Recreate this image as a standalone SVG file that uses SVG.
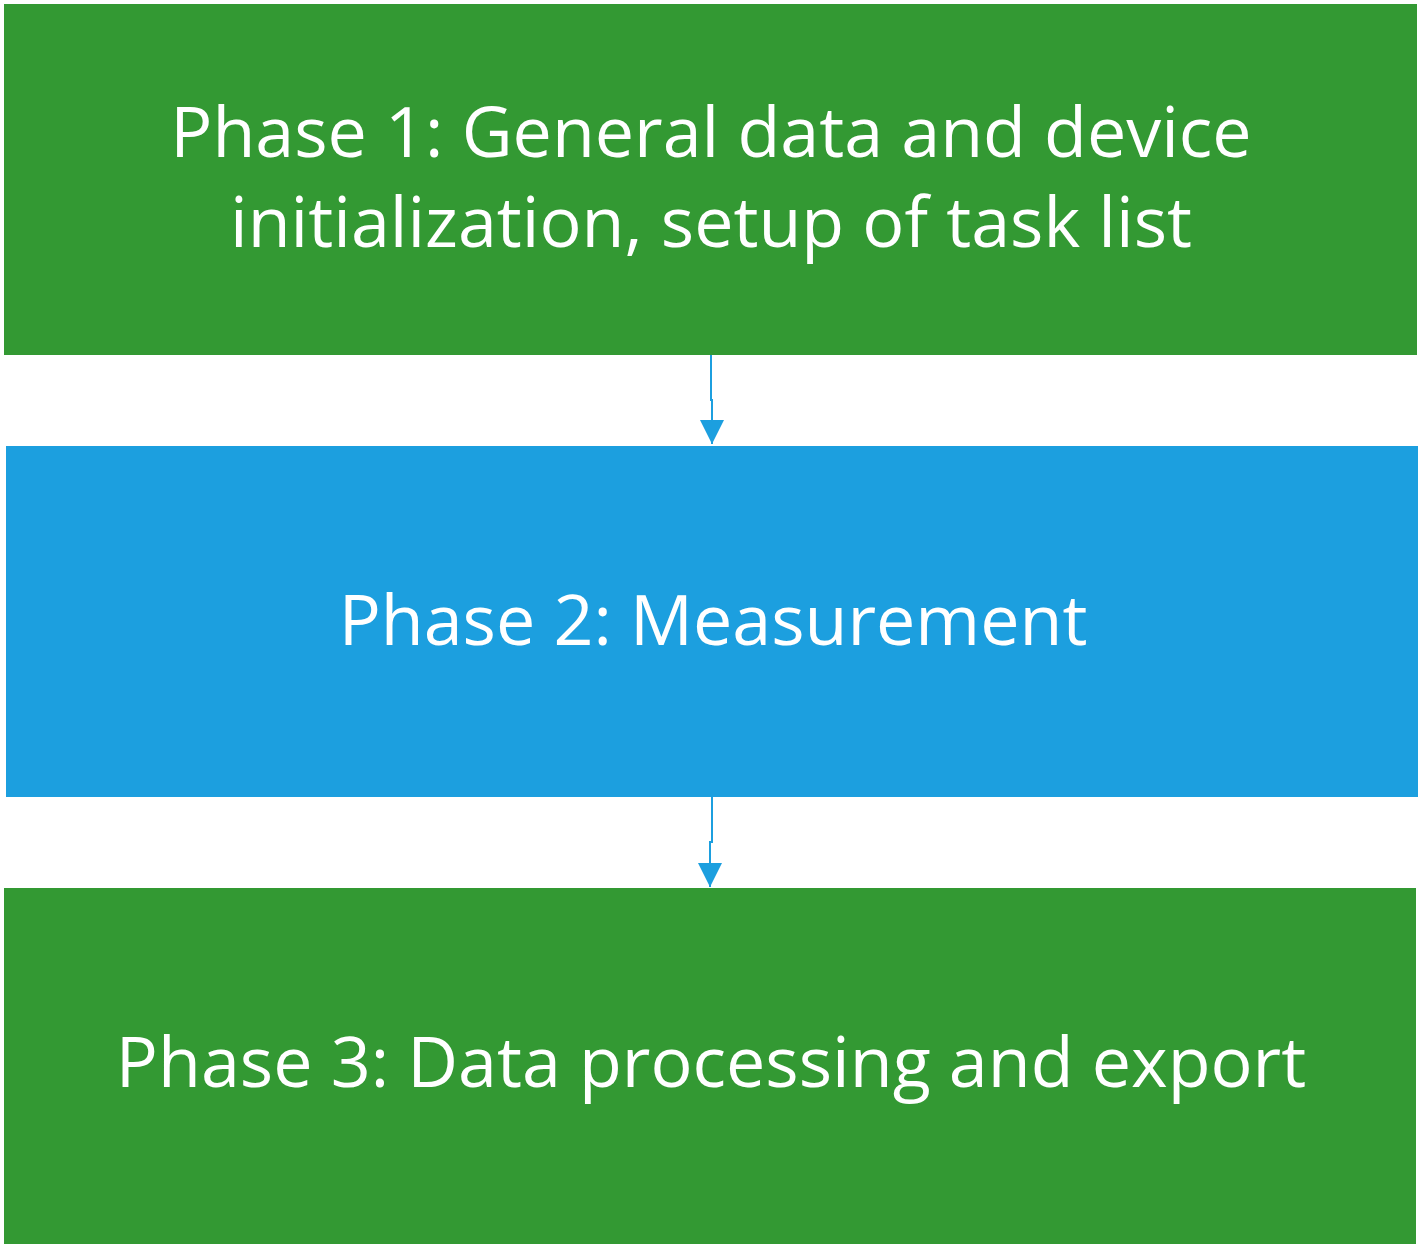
<svg xmlns="http://www.w3.org/2000/svg" width="1422" height="1244" viewBox="0 0 1422 1244">
<style>
.g{fill:#339933}
.b{fill:#1C9FDF}
.t{fill:#ffffff;font-family:"Open Sans","Noto Sans","Liberation Sans",sans-serif;font-size:70px;text-anchor:middle}
.c{fill:none;stroke:#1C9FDF;stroke-width:2}
</style>
<defs>
<marker id="ah" markerUnits="userSpaceOnUse" markerWidth="24" markerHeight="24" refX="24" refY="12" orient="auto">
<path d="M0,0 L24,12 L0,24 Z" fill="#1C9FDF"/>
</marker>
</defs>
<rect width="1422" height="1244" fill="#ffffff"/>
<g id="phase1">
<rect class="g" x="4" y="4" width="1413" height="351"/>
<text class="t" x="711" y="157">Phase 1: General data and device</text>
<text class="t" x="711" y="247">initialization, setup of task list</text>
</g>
<g id="phase2">
<rect class="b" x="6" y="446" width="1412" height="351"/>
<text class="t" x="713" y="645">Phase 2: Measurement</text>
</g>
<g id="phase3">
<rect class="g" x="4" y="888" width="1412" height="356"/>
<text class="t" x="711" y="1087">Phase 3: Data processing and export</text>
</g>
<g id="connectors">
<path class="c" d="M711,355 V400 H712 V444" marker-end="url(#ah)"/>
<path class="c" d="M712,797 V842 H710 V887" marker-end="url(#ah)"/>
</g>
</svg>
